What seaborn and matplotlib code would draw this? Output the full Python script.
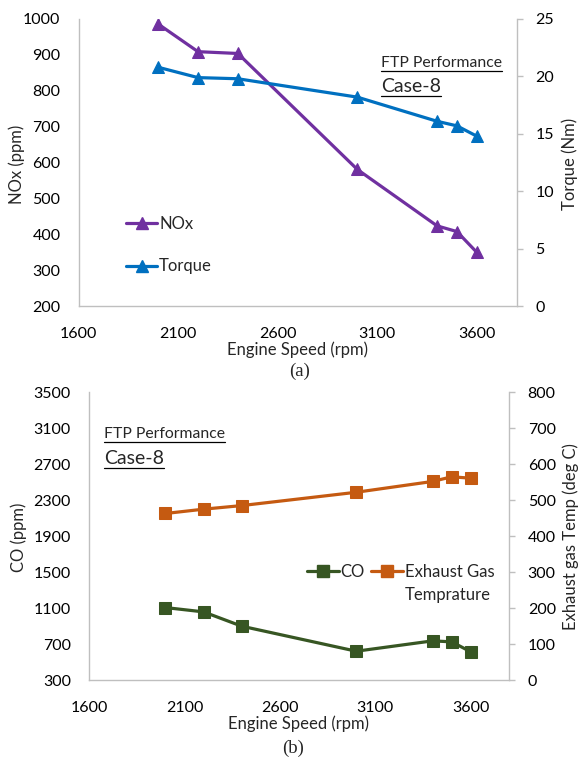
import matplotlib
matplotlib.use("Agg")
import matplotlib.pyplot as plt
import seaborn as sns
import pandas as pd
from matplotlib.lines import Line2D

# ---- data ----
speed = [2000, 2200, 2400, 3000, 3400, 3500, 3600]
nox = [986, 909, 904, 581, 424, 408, 350]
torque = [20.8, 19.9, 19.8, 18.2, 16.1, 15.7, 14.8]
co = [1107, 1059, 900, 622, 737, 726, 615]
exhaust_temp = [463, 475, 485, 522, 552, 565, 561]

x_ticks = [1600, 2100, 2600, 3100, 3600]
nox_ticks = list(range(200, 1001, 100))
torque_ticks = list(range(0, 26, 5))
co_ticks = list(range(300, 3501, 400))
temp_ticks = list(range(0, 801, 100))

C_NOX = "#7030A0"
C_TQ = "#0070C0"
C_CO = "#375623"
C_EX = "#C55A11"
GRAY = "#BFBFBF"

sns.set_theme(style="white")
plt.rcParams["font.family"] = ["Lato", "DejaVu Sans"]
FS_T = 11.5
FS_L = 12

W, H = 581, 760
fig = plt.figure(figsize=(5.81, 7.60), dpi=100)

df_a = pd.DataFrame({"speed": speed, "NOx": nox, "Torque": torque})
df_b = pd.DataFrame({"speed": speed, "CO": co, "Exhaust Gas": exhaust_temp})


def style_axes(ax, ax2, yticks_l, yticks_r):
    ax.set_xlim(1600, 3800)
    ax.set_xticks(x_ticks)
    ax.set_yticks(yticks_l)
    ax.set_ylim(yticks_l[0], yticks_l[-1])
    ax2.set_yticks(yticks_r)
    ax2.set_ylim(yticks_r[0], yticks_r[-1])
    for a in (ax, ax2):
        for s in a.spines.values():
            s.set_visible(False)
        a.grid(False)
        a.set_ylabel("")
    ax.spines["left"].set_visible(True)
    ax.spines["bottom"].set_visible(True)
    ax2.spines["right"].set_visible(True)
    for s in ("left", "bottom"):
        ax.spines[s].set_color(GRAY)
        ax.spines[s].set_linewidth(1.0)
    ax2.spines["right"].set_color(GRAY)
    ax2.spines["right"].set_linewidth(1.0)
    ax.tick_params(axis="y", length=0, pad=13, labelsize=FS_T, colors="black")
    ax.tick_params(axis="x", length=0, pad=15, labelsize=FS_T, colors="black")
    ax2.tick_params(axis="y", length=4, width=1, color=GRAY, pad=9.5,
                    labelsize=FS_T, labelcolor="black", direction="out")
    ax.set_xlabel("Engine Speed (rpm)", fontsize=FS_L, labelpad=0)
    ax.patch.set_alpha(0)
    ax2.patch.set_alpha(0)


def ylab(x, y, s):
    fig.text(x / W, 1 - y / H, s, fontsize=FS_L, rotation=90, ha="center", va="center")


# ---- panel (a) ----
axA = fig.add_axes([78.5 / W, 0.597, 438.2 / W, 0.378])
axA2 = axA.twinx()
sns.lineplot(data=df_a, x="speed", y="NOx", ax=axA, color=C_NOX, lw=2.3,
             marker="^", markersize=8.5, markeredgecolor=C_NOX, legend=False)
sns.lineplot(data=df_a, x="speed", y="Torque", ax=axA2, color=C_TQ, lw=2.3,
             marker="^", markersize=8.5, markeredgecolor=C_TQ, legend=False)
style_axes(axA, axA2, nox_ticks, torque_ticks)
ylab(17, 164, "NOx (ppm)")
ylab(570, 164, "Torque (Nm)")
hA = [Line2D([], [], color=C_NOX, lw=2.3, marker="^", markersize=8.5),
      Line2D([], [], color=C_TQ, lw=2.3, marker="^", markersize=8.5)]
axA.legend(hA, ["NOx", "Torque"], loc="upper left", bbox_to_anchor=(0.108, 0.315),
           frameon=False, fontsize=FS_L, handlelength=1.9, handletextpad=0.1,
           labelspacing=1.6, borderpad=0, borderaxespad=0)

# ---- panel (b) ----
axB = fig.add_axes([89 / W, 0.105, 420 / W, 0.379])
axB2 = axB.twinx()
sns.lineplot(data=df_b, x="speed", y="CO", ax=axB, color=C_CO, lw=2.3,
             marker="s", markersize=8, markeredgecolor=C_CO, legend=False)
sns.lineplot(data=df_b, x="speed", y="Exhaust Gas", ax=axB2, color=C_EX, lw=2.3,
             marker="s", markersize=8, markeredgecolor=C_EX, legend=False)
style_axes(axB, axB2, co_ticks, temp_ticks)
ylab(18.5, 537, "CO (ppm)")
ylab(571, 537, "Exhaust gas Temp (deg C)")
hB = [Line2D([], [], color=C_CO, lw=2.3, marker="s", markersize=8),
      Line2D([], [], color=C_EX, lw=2.3, marker="s", markersize=8)]
legB = axB.legend(hB, ["CO", "Exhaust Gas"], loc="upper left", bbox_to_anchor=(0.519, 0.405),
                  frameon=False, fontsize=FS_L, ncol=2, handlelength=1.9,
                  handletextpad=0.1, columnspacing=0.4, borderpad=0, borderaxespad=0)

# annotation texts
tA1 = fig.text(381 / W, 1 - 67 / H, "FTP Performance", fontsize=11.3)
tA2 = fig.text(381 / W, 1 - 92 / H, "Case-8", fontsize=14)
tB1 = fig.text(104 / W, 1 - 438 / H, "FTP Performance", fontsize=11.3)
tB2 = fig.text(104 / W, 1 - 464 / H, "Case-8", fontsize=14)

fig.text(300 / W, 1 - 371 / H, "(a)", fontsize=13.5, family="Liberation Serif",
         ha="center", va="center")
fig.text(293 / W, 1 - 748 / H, "(b)", fontsize=13.5, family="Liberation Serif",
         ha="center", va="center")

fig.canvas.draw()
r = fig.canvas.get_renderer()
for t in (tA1, tA2, tB1, tB2):
    bb = t.get_window_extent(r).transformed(fig.transFigure.inverted())
    yl = bb.y0 - 0.001
    fig.add_artist(Line2D([bb.x0, bb.x1], [yl, yl], color="black", lw=0.9,
                          transform=fig.transFigure))

lt = legB.get_texts()[1]
bb = lt.get_window_extent(r).transformed(fig.transFigure.inverted())
fig.text(bb.x0, bb.y0 - 0.010, "Temprature", fontsize=FS_L, ha="left", va="top")

fig.savefig("out.png", dpi=100)
